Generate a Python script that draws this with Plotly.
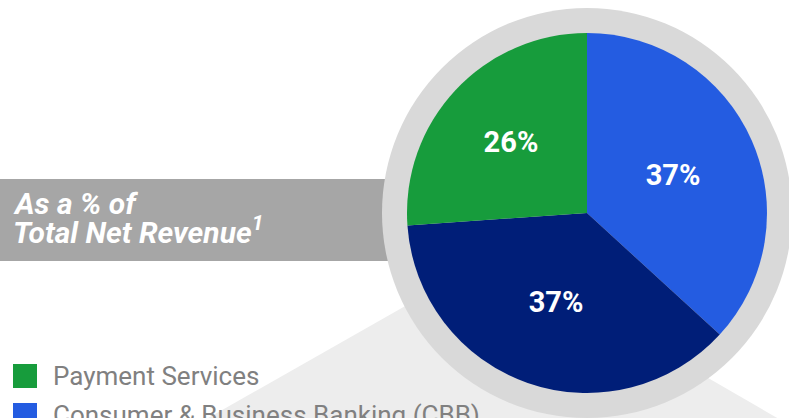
import plotly.graph_objects as go

W, H = 789, 418

# Data
segments = ["Consumer & Business Banking (CBB)", "Commercial Banking", "Payment Services"]
shares = [36.8, 37.1, 26.1]
slice_colors = ["#245ce1", "#001e78", "#179c3c"]

legend_labels = ["Payment Services", "Consumer & Business Banking (CBB)"]
legend_colors = ["#179c3c", "#245ce1"]

banner_lines = ["As a % of", "Total Net Revenue<sup>1</sup>"]


def fx(x):
    return x / W


def fy(y):
    return 1 - y / H


cx, cy, r_pie, r_ring = 587, 213, 180, 205

fig = go.Figure()
fig.add_trace(go.Pie(
    labels=segments,
    values=shares,
    sort=False,
    direction="clockwise",
    rotation=0,
    marker=dict(colors=slice_colors, line=dict(width=0)),
    textinfo="percent",
    texttemplate="%{percent:.0%}",
    textposition="inside",
    insidetextorientation="horizontal",
    textfont=dict(family="Roboto", size=29, color="white", weight="bold"),
    domain=dict(x=[fx(cx - r_pie), fx(cx + r_pie)], y=[fy(cy + r_pie), fy(cy - r_pie)]),
    showlegend=False,
    hoverinfo="label+percent",
))

shapes = []
# light gray shadow behind the pie
shapes.append(dict(type="path", xref="paper", yref="paper", layer="below",
                   path=f"M {fx(495)} {fy(255)} L {fx(187)} {fy(430)} L {fx(798)} {fy(430)} Z",
                   fillcolor="#ededed", line=dict(width=0)))
# banner
shapes.append(dict(type="rect", xref="paper", yref="paper", layer="below",
                   x0=0, x1=fx(400), y0=fy(261), y1=fy(179),
                   fillcolor="#a6a6a6", line=dict(width=0)))
# ring
shapes.append(dict(type="circle", xref="paper", yref="paper", layer="below",
                   x0=fx(cx - r_ring), x1=fx(cx + r_ring), y0=fy(cy + r_ring), y1=fy(cy - r_ring),
                   fillcolor="#d9d9d9", line=dict(width=0)))

annotations = []
for i, line in enumerate(banner_lines):
    annotations.append(dict(text=f"<b><i>{line}</i></b>", xref="paper", yref="paper",
                            x=fx(11), y=fy(203 + i * 27), xanchor="left", yanchor="middle",
                            showarrow=False,
                            font=dict(family="Roboto", size=30, color="white")))

for i, (lab, col) in enumerate(zip(legend_labels, legend_colors)):
    yc = 376 + i * 39
    shapes.append(dict(type="rect", xref="paper", yref="paper",
                       x0=fx(13), x1=fx(37), y0=fy(yc + 12), y1=fy(yc - 12),
                       fillcolor=col, line=dict(width=0)))
    annotations.append(dict(text=lab, xref="paper", yref="paper",
                            x=fx(51), y=fy(yc), xanchor="left", yanchor="middle",
                            showarrow=False,
                            font=dict(family="Roboto", size=26, color="#808080")))

fig.update_layout(
    width=W, height=H,
    margin=dict(l=0, r=0, t=0, b=0),
    paper_bgcolor="white",
    plot_bgcolor="white",
    shapes=shapes,
    annotations=annotations,
)

fig.write_html("out.html", config={"displayModeBar": False},
               post_script="document.body.style.margin='0';document.body.style.padding='0';")
